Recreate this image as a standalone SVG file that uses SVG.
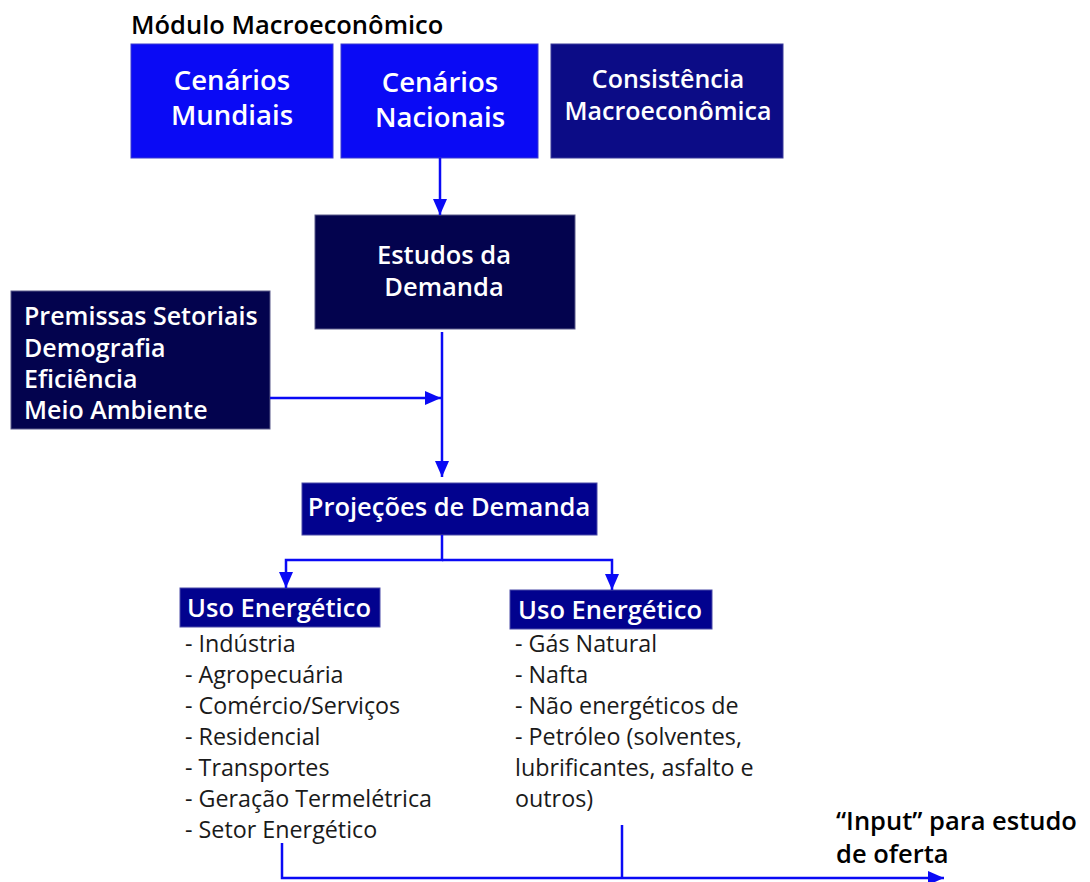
<svg xmlns="http://www.w3.org/2000/svg" width="1090" height="882" viewBox="0 0 1090 882">
  <style>
    .bright { fill: #0a0af5; stroke: #3a3ad0; stroke-width: 1; }
    .navy { fill: #0c0c86; stroke: #3a3a9a; stroke-width: 1; }
    .dark { fill: #03034e; stroke: #5a5a8a; stroke-width: 1; }
    .proj { fill: #02028e; stroke: #4a4aa8; stroke-width: 1; }
    .label { font-family: "Open Sans", "Liberation Sans", sans-serif; font-weight: 600; fill: #ffffff; }
    .head { font-family: "Open Sans", "Liberation Sans", sans-serif; font-weight: 600; fill: #000000; }
    .item { font-family: "Open Sans", "Liberation Sans", sans-serif; font-weight: 400; fill: #1a1a1a; font-size: 23.3px; }
    .wire { fill: none; stroke: #0a0af5; stroke-width: 2.5; }
  </style>
  <defs>
    <marker id="arrow" viewBox="0 0 16 14" refX="16" refY="7" markerWidth="16" markerHeight="14" markerUnits="userSpaceOnUse" orient="auto">
      <path d="M0,0 L16,7 L0,14 Z" fill="#0a0af5"/>
    </marker>
  </defs>

  <rect width="1090" height="882" fill="#ffffff"/>

  <text class="head" x="131" y="34" font-size="25.5">Módulo Macroeconômico</text>

  <g id="cenarios-mundiais">
    <rect class="bright" x="131" y="44" width="202" height="114"/>
    <text class="label" x="232" y="90" font-size="27.5" text-anchor="middle">Cenários</text>
    <text class="label" x="232" y="125" font-size="27.5" text-anchor="middle">Mundiais</text>
  </g>

  <g id="cenarios-nacionais">
    <rect class="bright" x="341" y="44" width="197" height="114"/>
    <text class="label" x="440" y="92" font-size="27.5" text-anchor="middle">Cenários</text>
    <text class="label" x="440" y="127" font-size="27.5" text-anchor="middle">Nacionais</text>
  </g>

  <g id="consistencia">
    <rect class="navy" x="551" y="44" width="232" height="114"/>
    <text class="label" x="668" y="88" font-size="25" text-anchor="middle">Consistência</text>
    <text class="label" x="668" y="119.5" font-size="25" text-anchor="middle">Macroeconômica</text>
  </g>

  <g id="estudos-demanda">
    <rect class="dark" x="315" y="215" width="260" height="114"/>
    <text class="label" x="444" y="263.5" font-size="25.5" text-anchor="middle">Estudos da</text>
    <text class="label" x="444" y="296" font-size="25.5" text-anchor="middle">Demanda</text>
  </g>

  <g id="premissas">
    <rect class="dark" x="11" y="291" width="259" height="138"/>
    <text class="label" x="24" y="325" font-size="25">Premissas Setoriais</text>
    <text class="label" x="24" y="357" font-size="25">Demografia</text>
    <text class="label" x="24" y="388" font-size="25">Eficiência</text>
    <text class="label" x="24" y="419" font-size="25">Meio Ambiente</text>
  </g>

  <g id="projecoes">
    <rect class="proj" x="302" y="483" width="295" height="52"/>
    <text class="label" x="449" y="516" font-size="25.5" text-anchor="middle">Projeções de Demanda</text>
  </g>

  <g id="uso-energetico-setores">
    <rect class="proj" x="180" y="588" width="200" height="39"/>
    <text class="label" x="279" y="617" font-size="25.5" text-anchor="middle">Uso Energético</text>
    <text class="item" x="185" y="652">- Indústria</text>
    <text class="item" x="185" y="683">- Agropecuária</text>
    <text class="item" x="185" y="714">- Comércio/Serviços</text>
    <text class="item" x="185" y="745">- Residencial</text>
    <text class="item" x="185" y="776">- Transportes</text>
    <text class="item" x="185" y="807">- Geração Termelétrica</text>
    <text class="item" x="185" y="838">- Setor Energético</text>
  </g>

  <g id="uso-energetico-fontes">
    <rect class="proj" x="510" y="590" width="202" height="39"/>
    <text class="label" x="610" y="619" font-size="25.5" text-anchor="middle">Uso Energético</text>
    <text class="item" x="515" y="652">- Gás Natural</text>
    <text class="item" x="515" y="683">- Nafta</text>
    <text class="item" x="515" y="714">- Não energéticos de</text>
    <text class="item" x="515" y="745">- Petróleo (solventes,</text>
    <text class="item" x="515" y="776">lubrificantes, asfalto e</text>
    <text class="item" x="515" y="807">outros)</text>
  </g>

  <g id="saida">
    <text class="head" x="836" y="830" font-size="25.5">“Input” para estudo</text>
    <text class="head" x="836" y="863" font-size="25.5">de oferta</text>
  </g>

  <g id="connectors">
    <line class="wire" x1="440" y1="158" x2="440" y2="215" marker-end="url(#arrow)"/>
    <line class="wire" x1="442" y1="332" x2="442" y2="477" marker-end="url(#arrow)"/>
    <line class="wire" x1="270" y1="398" x2="441" y2="398" marker-end="url(#arrow)"/>
    <polyline class="wire" points="442,535 442,560 286,560 286,588" marker-end="url(#arrow)"/>
    <polyline class="wire" points="442,560 612,560 612,590" marker-end="url(#arrow)"/>
    <polyline class="wire" points="282,843 282,878 944,878" marker-end="url(#arrow)"/>
    <line class="wire" x1="622" y1="825" x2="622" y2="878"/>
  </g>
</svg>
